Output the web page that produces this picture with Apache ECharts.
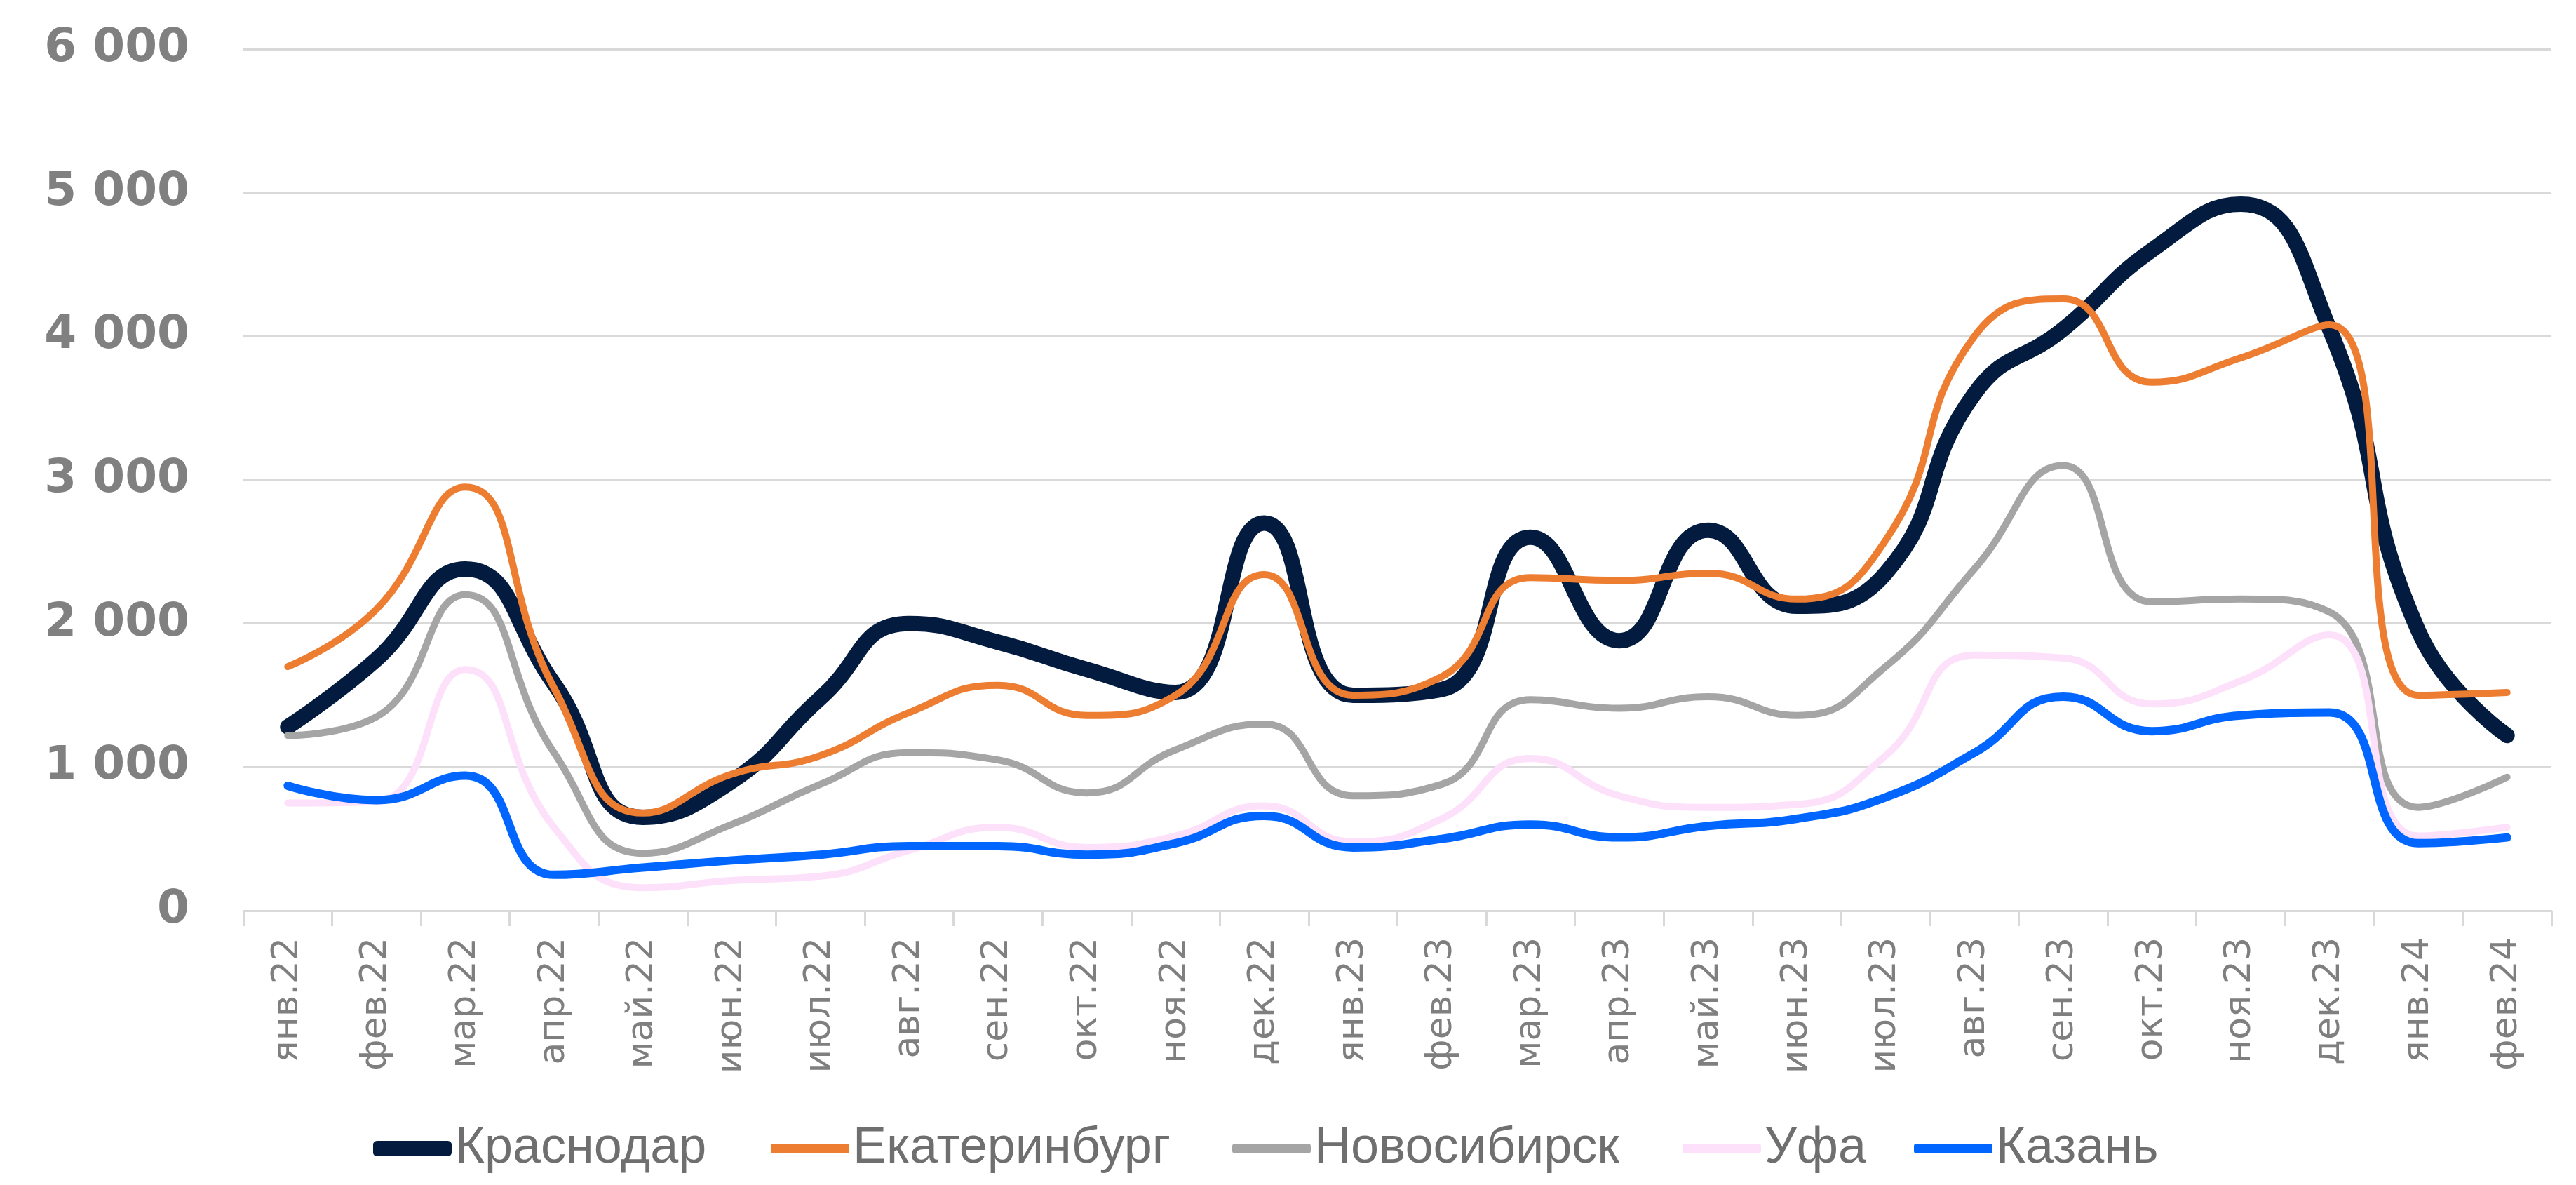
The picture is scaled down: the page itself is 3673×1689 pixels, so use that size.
<!DOCTYPE html>
<html>
<head>
<meta charset="utf-8">
<script src="https://cdn.jsdelivr.net/npm/echarts@6/dist/echarts.min.js"></script>
<style>
  html, body { margin: 0; padding: 0; background: #ffffff; }
  #chart { width: 3673px; height: 1689px; }
</style>
</head>
<body>
<div id="chart"></div>
<script>
// месяцы
var months = ['янв.22', 'фев.22', 'мар.22', 'апр.22', 'май.22', 'июн.22', 'июл.22', 'авг.22', 'сен.22', 'окт.22', 'ноя.22', 'дек.22',
  'янв.23', 'фев.23', 'мар.23', 'апр.23', 'май.23', 'июн.23', 'июл.23', 'авг.23', 'сен.23', 'окт.23', 'ноя.23', 'дек.23',
  'янв.24', 'фев.24'];

var cities = ['Краснодар', 'Екатеринбург', 'Новосибирск', 'Уфа', 'Казань'];
var cityColors = ['#021b3f', '#ed7d31', '#a5a5a5', '#fde0fa', '#0066ff'];
var cityWidths = [22, 10, 10, 10, 12];

var krasnodar = [1280, 1750, 2380, 1580, 650, 900, 1480, 2000, 1870, 1680, 1520, 2700,
  1500, 1540, 2600, 1880, 2650, 2120, 2350, 3600, 4050, 4600, 4920, 4050, 1950, 1220];
var ekaterinburg = [1700, 2100, 2950, 1550, 680, 950, 1080, 1380, 1570, 1360, 1500, 2340,
  1500, 1630, 2320, 2300, 2350, 2170, 2580, 4000, 4260, 3680, 3850, 4080, 1500, 1520];
var novosibirsk = [1220, 1350, 2200, 1100, 400, 600, 880, 1100, 1050, 820, 1120, 1300,
  800, 880, 1470, 1410, 1490, 1360, 1700, 2380, 3100, 2150, 2170, 2080, 720, 930];
var ufa = [750, 760, 1680, 580, 160, 210, 240, 420, 580, 440, 520, 730,
  480, 640, 1060, 800, 720, 740, 1080, 1780, 1760, 1440, 1600, 1920, 520, 580];
var kazan = [870, 770, 940, 250, 300, 350, 390, 450, 450, 390, 470, 660,
  440, 500, 600, 510, 590, 640, 790, 1100, 1490, 1250, 1360, 1380, 470, 510];

var yTicks = [0, 1000, 2000, 3000, 4000, 5000, 6000];

var seriesData = [krasnodar, ekaterinburg, novosibirsk, ufa, kazan];

// легенда: отдельный блок на каждый город
var legendLeft = [527, 1094, 1752, 2394, 2724];
var legendIconH = [22, 13, 13, 13, 14];

var chart = echarts.init(document.getElementById('chart'), null, { renderer: 'canvas' });

var series = [];
var legends = [];
for (var i = 0; i < cities.length; i++) {
  series.push({
    name: cities[i],
    type: 'line',
    smooth: 0.5,
    symbol: 'none',
    data: seriesData[i],
    color: cityColors[i],
    lineStyle: {
      color: cityColors[i],
      width: cityWidths[i],
      cap: 'round',
      join: 'round'
    }
  });
  legends.push({
    data: [{ name: cities[i], icon: 'roundRect' }],
    left: legendLeft[i],
    top: 1596,
    itemWidth: 112,
    itemHeight: legendIconH[i],
    selectedMode: false,
    textStyle: {
      color: '#6f6f6f',
      fontSize: 72,
      fontFamily: 'Liberation Sans'
    }
  });
}

function fmt(v) {
  return String(v).replace(/\B(?=(\d{3})+(?!\d))/g, ' ');
}

var option = {
  backgroundColor: '#ffffff',
  animation: false,
  grid: {
    left: 347,
    right: 35,
    top: 70,
    bottom: 391
  },
  legend: legends,
  xAxis: {
    type: 'category',
    data: months,
    boundaryGap: true,
    axisLine: {
      lineStyle: { color: '#d9d9d9', width: 3 }
    },
    axisTick: {
      show: true,
      length: 22,
      lineStyle: { color: '#d9d9d9', width: 3 }
    },
    axisLabel: {
      interval: 0,
      rotate: 90,
      margin: 38,
      color: '#7f7f7f',
      fontSize: 52,
      fontFamily: 'DejaVu Sans'
    }
  },
  yAxis: {
    type: 'value',
    min: yTicks[0],
    max: yTicks[yTicks.length - 1],
    interval: 1000,
    axisLine: { show: false },
    axisTick: { show: false },
    splitLine: {
      lineStyle: { color: '#d9d9d9', width: 3 }
    },
    axisLabel: {
      margin: 77,
      color: '#808080',
      fontSize: 66,
      fontWeight: 'bold',
      fontFamily: 'DejaVu Sans',
      formatter: fmt
    }
  },
  series: series
};

chart.setOption(option);
</script>
</body>
</html>
